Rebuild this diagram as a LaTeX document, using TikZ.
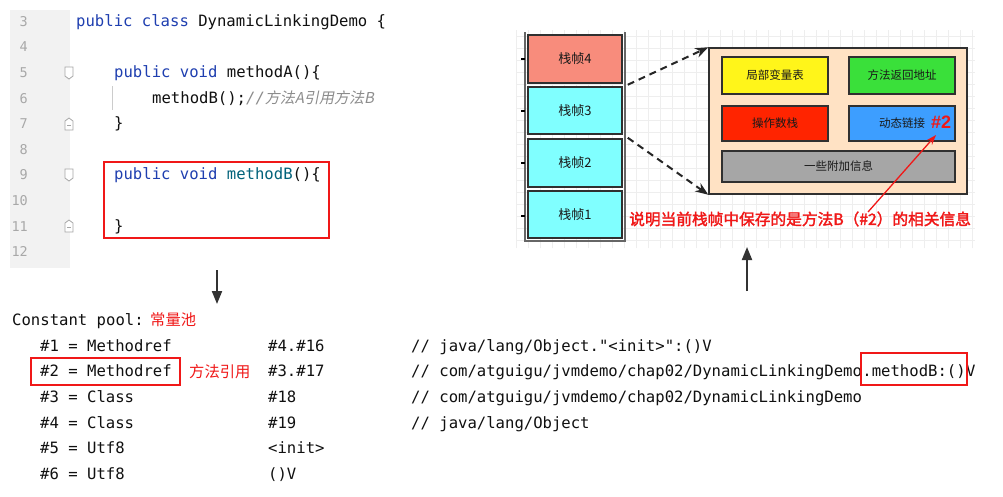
\documentclass[tikz,border=0pt]{standalone}
\usepackage{fontspec}
\setmonofont{DejaVu Sans Mono}
\newfontfamily\cjk{Noto Sans CJK SC}
\newfontfamily\cjkb{Noto Sans CJK SC}[FakeBold=2]
\newfontfamily\cjki{Noto Sans CJK SC}[FakeSlant=0.2]
\newfontfamily\lsans{Liberation Sans}
\usetikzlibrary{arrows.meta}
\definecolor{kw}{HTML}{1F3FB0}
\definecolor{fn}{HTML}{00627A}
\definecolor{cm}{HTML}{8C8C8C}
\definecolor{cb}{HTML}{101010}
\definecolor{lngray}{HTML}{A8A8A8}
\definecolor{gutter}{HTML}{F2F2F2}
\definecolor{redc}{HTML}{F01818}
\definecolor{salmon}{HTML}{F88C7C}
\definecolor{cyanc}{HTML}{80FFFF}
\definecolor{peach}{HTML}{FFE2C4}
\definecolor{yel}{HTML}{FFF51A}
\definecolor{grn}{HTML}{3AE03A}
\definecolor{rd}{HTML}{FF2400}
\definecolor{blu}{HTML}{3D9EFF}
\definecolor{gry}{HTML}{A6A6A6}
\definecolor{boxline}{HTML}{303030}
\definecolor{gridc}{HTML}{EEEEEE}
\tikzset{
  code/.style={anchor=base west, inner sep=0pt, font=\ttfamily\fontsize{15.6}{18}\selectfont, text=cb},
  lnum/.style={anchor=base east, inner sep=0pt, font=\ttfamily\fontsize{13.5}{16}\selectfont, text=lngray},
  cjkred/.style={anchor=west, inner sep=0pt, font=\cjk\fontsize{15.3}{18}\selectfont, text=redc},
  redbox/.style={draw=redc, line width=1.5pt},
  fold/.style={draw=black!35, fill=white, line width=0.8pt},
  stackframe/.style={draw=boxline, line width=1.5pt, minimum width=94pt, inner sep=0pt, font=\cjk\fontsize{13}{15}\selectfont, text=black!90},
  part/.style={draw=boxline, line width=1.5pt, inner sep=0pt, font=\cjk\fontsize{11.5}{13}\selectfont, text=black!90},
  bigarrow/.style={line width=2pt, draw=black!80, -{Triangle[length=13pt,width=10pt]}},
  dasharrow/.style={line width=2pt, draw=black!85, dash pattern=on 7pt off 5pt, -{Stealth[length=13pt,width=10pt]}},
}
\begin{document}
\begin{tikzpicture}[x=1pt,y=-1pt]
\useasboundingbox (0,0) rectangle (1003,496);
\fill[white] (0,0) rectangle (1003,496);
% ---------------- code editor ----------------
\fill[gutter] (10,10) rectangle (70,268);
\foreach \n [count=\i from 0] in {3,...,12}
  \node[lnum] (ln\n) at (28,{26.3+25.6*\i}) {\n};
\foreach \yy in {73,175}
  \draw[fold] (65,\yy-6) -- (73,\yy-6) -- (73,\yy+3) -- (69,\yy+6) -- (65,\yy+3) -- cycle;
\foreach \yy in {124,226}{
  \draw[fold] (65,\yy+6) -- (73,\yy+6) -- (73,\yy-3) -- (69,\yy-6) -- (65,\yy-3) -- cycle;
  \draw[black!35, line width=0.8pt] (67,\yy+1.5) -- (71,\yy+1.5);
}
\draw[black!20, line width=0.8pt] (112,86) -- (112,110);
\node[code] (l3) at (76,26.3) {\textcolor{kw}{public class} DynamicLinkingDemo \{};
\node[code] (l5) at (114,77.5) {\textcolor{kw}{public void} methodA()\{};
\node[code] (l6) at (152,103.1) {methodB();\textcolor{cm}{\itshape//\cjki\fontsize{15}{18}\selectfont 方法A引用方法B}};
\node[code] (l7) at (114,128.7) {\}};
\node[code] (l9) at (114,179.9) {\textcolor{kw}{public void} \textcolor{fn}{methodB}()\{};
\node[code] (l11) at (114,231.1) {\}};
\draw[redbox] (104,162) rectangle (329,238);
% down arrow
\coordinate (dtop) at (217,270);
\coordinate (dbot) at (217,304);
\draw[bigarrow] (dtop) -- (dbot);
% ---------------- constant pool ----------------
\node[code] (cp) at (12,325.5) {Constant pool:};
\node[cjkred] (cpcn) at (150,320) {常量池};
\node[code] (r1a) at (40,351.3) {\#1 = Methodref};
\node[code] (r1b) at (268,351.3) {\#4.\#16};
\node[code] (r1c) at (411,351.3) {// java/lang/Object."<init>":()V};
\node[code] (r2a) at (40,376.9) {\#2 = Methodref};
\node[cjkred] (r2cn) at (189,371.5) {方法引用};
\node[code] (r2b) at (268,376.9) {\#3.\#17};
\node[code] (r2c) at (411,376.9) {// com/atguigu/jvmdemo/chap02/DynamicLinkingDemo};
\node[code] (r2d) at (r2c.base east) {.methodB:()};
\node[code] (r2e) at (r2d.base east) {V};
\node[code] (r3a) at (40,402.5) {\#3 = Class};
\node[code] (r3b) at (268,402.5) {\#18};
\node[code] (r3c) at (411,402.5) {// com/atguigu/jvmdemo/chap02/DynamicLinkingDemo};
\node[code] (r4a) at (40,428.1) {\#4 = Class};
\node[code] (r4b) at (268,428.1) {\#19};
\node[code] (r4c) at (411,428.1) {// java/lang/Object};
\node[code] (r5a) at (40,453.7) {\#5 = Utf8};
\node[code] (r5b) at (268,453.7) {<init>};
\node[code] (r6a) at (40,479.3) {\#6 = Utf8};
\node[code] (r6b) at (268,479.3) {()V};
\coordinate (bt) at (0,358);
\coordinate (bb) at (0,385);
\draw[redbox] ([xshift=-9pt]r2a.west |- bt) rectangle ([xshift=8pt]r2a.east |- bb);
\coordinate (ct) at (0,353);
\coordinate (cb) at (0,385);
\draw[redbox] ([xshift=-1pt]r2d.west |- ct) rectangle ([xshift=1pt]r2d.east |- cb);
% ---------------- stack diagram ----------------
\draw[gridc, line width=0.6pt, step=12pt] (516,30) grid (975,248);
\draw[black!60, line width=2.2pt] (525,32) -- (525,241) -- (625,241) -- (625,32);
\foreach \yy in {59,111,163,216}
  \draw[black, line width=1.5pt] (521,\yy) -- (525,\yy);
\node[stackframe, fill=salmon, minimum height=48pt] (f4) at (575,59) {栈帧4};
\node[stackframe, fill=cyanc, minimum height=47pt] (f3) at (575,110.5) {栈帧3};
\node[stackframe, fill=cyanc, minimum height=48pt] (f2) at (575,163) {栈帧2};
\node[stackframe, fill=cyanc, minimum height=47pt] (f1) at (575,214.5) {栈帧1};
\node[part, fill=peach, minimum width=258pt, minimum height=146pt] (detail) at (838,121) {};
\node[part, fill=yel, minimum width=106pt, minimum height=37pt] (lv) at (775,75.5) {局部变量表};
\node[part, fill=grn, minimum width=106pt, minimum height=37pt] (ret) at (902,75.5) {方法返回地址};
\node[part, fill=rd, minimum width=106pt, minimum height=35pt] (ops) at (775,123.5) {操作数栈};
\node[part, fill=blu, minimum width=106pt, minimum height=35pt] (dyn) at (902,123.5) {动态链接};
\node[part, fill=gry, minimum width=233pt, minimum height=31pt] (extra) at (838.5,166.5) {一些附加信息};
\node[inner sep=0pt, font=\lsans\bfseries\fontsize{18}{20}\selectfont, text=redc] (h2) at (941,122) {\#2};
\draw[dasharrow] ([xshift=5pt,yshift=-1pt]f4.south east) -- (detail.north west);
\draw[dasharrow] ([xshift=5pt,yshift=-3pt]f3.south east) -- (detail.south west);
\node[anchor=west, inner sep=0pt, font=\cjkb\fontsize{15.7}{18}\selectfont, text=redc] (note) at (629,219) {说明当前栈帧中保存的是方法B（\#2）的相关信息};
\coordinate (rtail) at (868,212);
\coordinate (rhead) at (936,135);
\draw[redc, line width=1.3pt, -{Stealth[length=10pt,width=7pt]}] (rtail) -- (rhead);
% up arrow
\coordinate (ubot) at (747,291);
\coordinate (utop) at (747,247);
\draw[bigarrow] (ubot) -- (utop);
\end{tikzpicture}
\end{document}
